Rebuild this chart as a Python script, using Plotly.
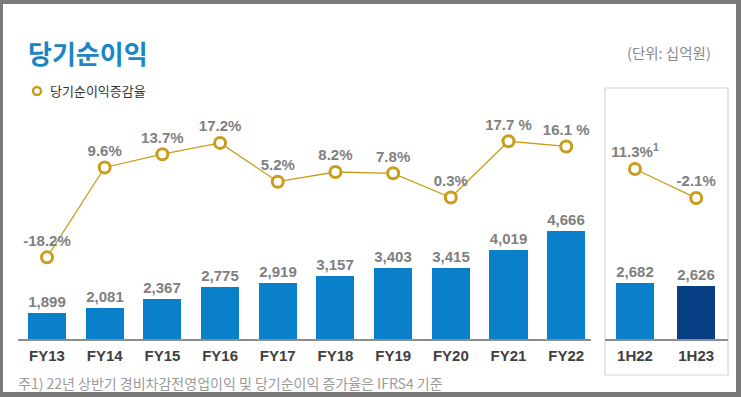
import plotly.graph_objects as go

# ---- data ----
fy_labels = ["FY13", "FY14", "FY15", "FY16", "FY17", "FY18", "FY19", "FY20", "FY21", "FY22"]
fy_income = [1899, 2081, 2367, 2775, 2919, 3157, 3403, 3415, 4019, 4666]
fy_growth = [-18.2, 9.6, 13.7, 17.2, 5.2, 8.2, 7.8, 0.3, 17.7, 16.1]
fy_growth_text = ["-18.2%", "9.6%", "13.7%", "17.2%", "5.2%", "8.2%", "7.8%", "0.3%", "17.7 %", "16.1 %"]

h_labels = ["1H22", "1H23"]
h_income = [2682, 2626]
h_growth = [11.3, -2.1]
h_growth_text = ["11.3%<sup>1</sup>", "-2.1%"]

title_text = "당기순이익"
unit_text = "(단위: 십억원)"
legend_text = "당기순이익증감율"
note_text = "주1) 22년 상반기 경비차감전영업이익 및 당기순이익 증가율은 IFRS4 기준"

# ---- style ----
W, H = 741, 397
BLUE = "#0A80CA"
NAVY = "#083E84"
GOLD = "#C99D1B"
GRAY_TXT = "#7F7F7F"
FONT = "Liberation Sans, Arial, sans-serif"
KFONT = "Noto Sans CJK KR, sans-serif"


def px_x(p):
    return p / W


def px_y(p):
    return 1 - p / H


ydom = [px_y(339), px_y(90)]

fig = go.Figure()

# left panel bars
fig.add_trace(go.Bar(
    x=list(range(len(fy_labels))), y=fy_income, width=0.66,
    marker=dict(color=BLUE, line=dict(width=0)),
    texttemplate="<b>%{y:,}</b>", textposition="outside",
    textfont=dict(family=FONT, size=15, color=GRAY_TXT),
    cliponaxis=False, xaxis="x", yaxis="y", showlegend=False, hoverinfo="skip",
))
# left panel line
fig.add_trace(go.Scatter(
    x=list(range(len(fy_labels))), y=fy_growth, mode="lines+markers+text",
    text=["<b>%s</b>" % t for t in fy_growth_text], textposition="top center",
    textfont=dict(family=FONT, size=15, color=GRAY_TXT),
    line=dict(color=GOLD, width=1.3),
    marker=dict(size=11, color="white", line=dict(color=GOLD, width=3)),
    cliponaxis=False, xaxis="x", yaxis="y2", showlegend=False, hoverinfo="skip",
))
# right panel bars
fig.add_trace(go.Bar(
    x=[0, 1], y=h_income, width=0.62,
    marker=dict(color=[BLUE, NAVY], line=dict(width=0)),
    texttemplate="<b>%{y:,}</b>", textposition="outside",
    textfont=dict(family=FONT, size=15, color=GRAY_TXT),
    cliponaxis=False, xaxis="x2", yaxis="y3", showlegend=False, hoverinfo="skip",
))
# right panel line
fig.add_trace(go.Scatter(
    x=[0, 1], y=h_growth, mode="lines+markers+text",
    text=["<b>%s</b>" % t for t in h_growth_text], textposition="top center",
    textfont=dict(family=FONT, size=15, color=GRAY_TXT),
    line=dict(color=GOLD, width=1.3),
    marker=dict(size=11, color="white", line=dict(color=GOLD, width=3)),
    cliponaxis=False, xaxis="x2", yaxis="y4", showlegend=False, hoverinfo="skip",
))

xcommon = dict(showgrid=False, zeroline=False, showline=True, linecolor="#8C8C8C", linewidth=1.5,
               ticks="outside", ticklen=2, tickcolor="rgba(0,0,0,0)",
               tickfont=dict(family=FONT, size=15, color="#404040"), fixedrange=True)
ycommon = dict(showgrid=False, zeroline=False, showline=False, showticklabels=False, ticks="", fixedrange=True)

fig.update_layout(
    width=W, height=H,
    margin=dict(l=0, r=0, t=0, b=0),
    paper_bgcolor="#7A7A7A",
    plot_bgcolor="rgba(0,0,0,0)",
    bargap=0,
    xaxis=dict(**xcommon, domain=[px_x(18), px_x(591)], range=[-0.503, 9.43],
               tickmode="array", tickvals=list(range(len(fy_labels))),
               ticktext=["<b>%s</b>" % t for t in fy_labels], anchor="y"),
    yaxis=dict(**ycommon, domain=ydom, range=[1021, 1021 + 249 / 0.0296], anchor="x"),
    yaxis2=dict(**ycommon, domain=ydom, range=[-43.46, 33.56], overlaying="y", anchor="x"),
    xaxis2=dict(**xcommon, domain=[px_x(605), px_x(728)], range=[-0.49, 1.52],
                tickmode="array", tickvals=[0, 1],
                ticktext=["<b>%s</b>" % t for t in h_labels], anchor="y3"),
    yaxis3=dict(**ycommon, domain=ydom, range=[1637, 1637 + 249 / 0.0536], anchor="x2"),
    yaxis4=dict(**ycommon, domain=ydom, range=[-67.2, 47.8], overlaying="y3", anchor="x2"),
    shapes=[
        dict(type="rect", xref="paper", yref="paper", x0=px_x(3), x1=px_x(736), y0=px_y(392), y1=px_y(4),
             fillcolor="white", line=dict(width=0), layer="below"),
        dict(type="rect", xref="paper", yref="paper", x0=px_x(605), x1=px_x(728), y0=px_y(375), y1=px_y(88),
             fillcolor="rgba(0,0,0,0)", line=dict(color="#D6D6D6", width=1.2), layer="below"),
        dict(type="circle", xref="paper", yref="paper", x0=px_x(33), x1=px_x(41), y0=px_y(95), y1=px_y(87),
             fillcolor="white", line=dict(color=GOLD, width=2.5)),
    ],
    annotations=[
        dict(text="<b>%s</b>" % title_text, xref="paper", yref="paper", x=px_x(26), y=px_y(53),
             xanchor="left", yanchor="middle", showarrow=False,
             font=dict(family=KFONT, size=26, color="#1B86C2")),
        dict(text=unit_text, xref="paper", yref="paper", x=px_x(713), y=px_y(53),
             xanchor="right", yanchor="middle", showarrow=False,
             font=dict(family=KFONT, size=14.5, color="#8A8A8A")),
        dict(text=legend_text, xref="paper", yref="paper", x=px_x(48), y=px_y(91),
             xanchor="left", yanchor="middle", showarrow=False,
             font=dict(family=KFONT, size=13, color="#333333")),
        dict(text=note_text, xref="paper", yref="paper", x=px_x(16), y=px_y(383),
             xanchor="left", yanchor="middle", showarrow=False,
             font=dict(family=KFONT, size=14, color="#9A9A9A")),
    ],
)

fig.write_html(
    "out.html",
    config={"displayModeBar": False},
    post_script="document.body.style.margin='0';document.body.style.overflow='hidden';",
)
